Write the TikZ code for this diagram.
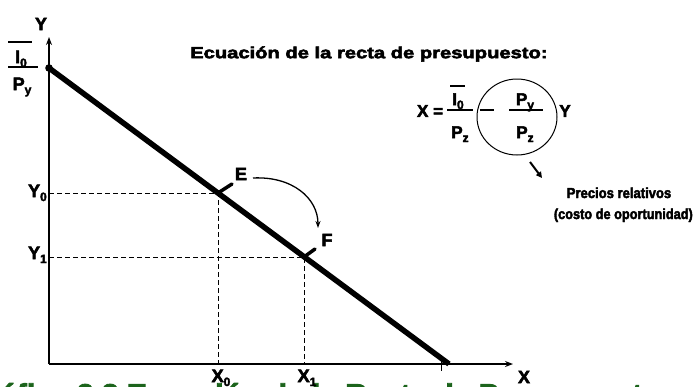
\documentclass[tikz,border=0pt]{standalone}
\usepackage{fontspec}
\setmainfont{Liberation Sans}[BoldFeatures={FakeBold=3}]
\usepackage{graphicx}
\usetikzlibrary{arrows.meta,shapes.geometric}
\definecolor{capgreen}{RGB}{28,100,28}
\newcommand\sbs[1]{\raisebox{-4pt}{\fontsize{12}{12}\selectfont #1}}
\begin{document}
\begin{tikzpicture}[x=1pt,y=-1pt,
  axis/.style={line width=2pt,-{Stealth[length=8pt,width=6pt]}},
  budget/.style={line width=5.5pt},
  guide/.style={line width=1pt,dash pattern=on 5pt off 3pt},
  ptmark/.style={line width=3.5pt,line cap=round},
  lbl/.style={font=\fontsize{18}{18}\selectfont\bfseries,inner sep=0pt},
  eq/.style={font=\fontsize{17}{17}\selectfont\bfseries,inner sep=0pt},
  note/.style={font=\fontsize{14.5}{14.5}\selectfont\bfseries,inner sep=0pt},
  bar/.style={line width=1.5pt}
]
\useasboundingbox (0,0) rectangle (695,386);
\clip (0,0) rectangle (695,386);

% caption (cut off at the bottom)
\node[anchor=base west,font=\fontsize{30}{30}\selectfont\bfseries,text=capgreen,inner sep=0pt] (cap) at (-35,405) {Gráfica 2.3 Ecuación de la Recta de Presupuesto};

% axes
\coordinate (O) at (49,364);
\coordinate (Ytop) at (49,37);
\coordinate (Xend) at (513,364);
\draw[axis] (O) -- (Ytop);
\draw[axis] (O) -- (Xend);
\node[lbl] (ylab) at (41,24) {Y};
\node[lbl] (xlab) at (524,377) {X};

% budget line
\coordinate (A) at (49,68);
\coordinate (B) at (449,364);
\coordinate (E) at (218,193);
\coordinate (F) at (304,257);
\coordinate (tickT) at (441,355);
\coordinate (tickB) at (441,371);
\draw[line width=1pt] (tickT) -- (tickB);

% guides
\coordinate (Ey) at (49,193);
\coordinate (Ex) at (218,364);
\coordinate (Fy) at (49,257);
\coordinate (Fx) at (304,364);
\draw[guide] (Ey) -- (E) -- (Ex);
\draw[guide] (Fy) -- (F) -- (Fx);

\draw[budget] (A) -- (B);
\fill (A) circle (3.8);

% axis labels
\node[lbl,anchor=base east] (y0) at (47,197) {Y\sbs{0}};
\node[lbl,anchor=base east] (y1) at (47,259) {Y\sbs{1}};
\node[lbl,anchor=base] (x0) at (221,382) {X\sbs{0}};
\node[lbl,anchor=base] (x1) at (307,382) {X\sbs{1}};

% I0 / Py
\coordinate (ovA) at (8,42);
\coordinate (ovB) at (32,42);
\draw[bar] (ovA) -- (ovB);
\node[lbl,anchor=base] (i0) at (21,63) {I\sbs{0}};
\coordinate (fbA) at (8,67);
\coordinate (fbB) at (38,67);
\draw[bar] (fbA) -- (fbB);
\node[lbl,anchor=base] (py) at (22,90) {P\sbs{y}};

% points E and F
\coordinate (Em) at (232,184);
\coordinate (Fm) at (315,249);
\draw[ptmark] (E) -- (Em);
\draw[ptmark] (F) -- (Fm);
\node[lbl] (elab) at (241,174) {E};
\node[lbl] (flab) at (327,240) {F};
\coordinate (cS) at (253,178);
\coordinate (cE) at (318,228);
\draw[line width=1.3pt,-{Stealth[length=7pt,width=5pt]}] (cS) .. controls (292,176) and (318,198) .. (cE);

% heading
\node[anchor=west,inner sep=0pt,font=\fontsize{16}{16}\selectfont\bfseries] (head) at (190,54) {\scalebox{1.26}[1]{Ecuación de la recta de presupuesto:}};

% equation
\node[eq] (xeq) at (430,111) {X =};
\coordinate (eovA) at (450,86);
\coordinate (eovB) at (465,86);
\draw[bar] (eovA) -- (eovB);
\node[eq,anchor=base] (ei0) at (458,105) {I\sbs{0}};
\coordinate (ebA) at (447,110);
\coordinate (ebB) at (473,110);
\draw[bar] (ebA) -- (ebB);
\node[eq,anchor=base] (epz) at (460,138) {P\sbs{z}};

\node[draw,line width=1pt,ellipse,minimum width=80pt,minimum height=76pt] (circ) at (517,117) {};
\coordinate (mA) at (480,110);
\coordinate (mB) at (494,110);
\draw[bar] (mA) -- (mB);
\node[eq,anchor=base] (epy) at (525,105) {P\sbs{y}};
\coordinate (rbA) at (509,110);
\coordinate (rbB) at (543,110);
\draw[bar] (rbA) -- (rbB);
\node[eq,anchor=base] (epz2) at (525,138) {P\sbs{z}};
\node[eq] (eY) at (565,111) {Y};

\coordinate (aS) at (530,162);
\coordinate (aE) at (542,178);
\draw[line width=2pt,-{Triangle[length=6pt,width=6pt]}] (aS) -- (aE);
\node[note,anchor=base] (prec1) at (619,198) {\scalebox{0.9}[1]{Precios relativos}};
\node[note,anchor=base east] (prec2) at (693,219) {\scalebox{0.88}[1]{(costo de oportunidad)}};
\end{tikzpicture}
\end{document}
